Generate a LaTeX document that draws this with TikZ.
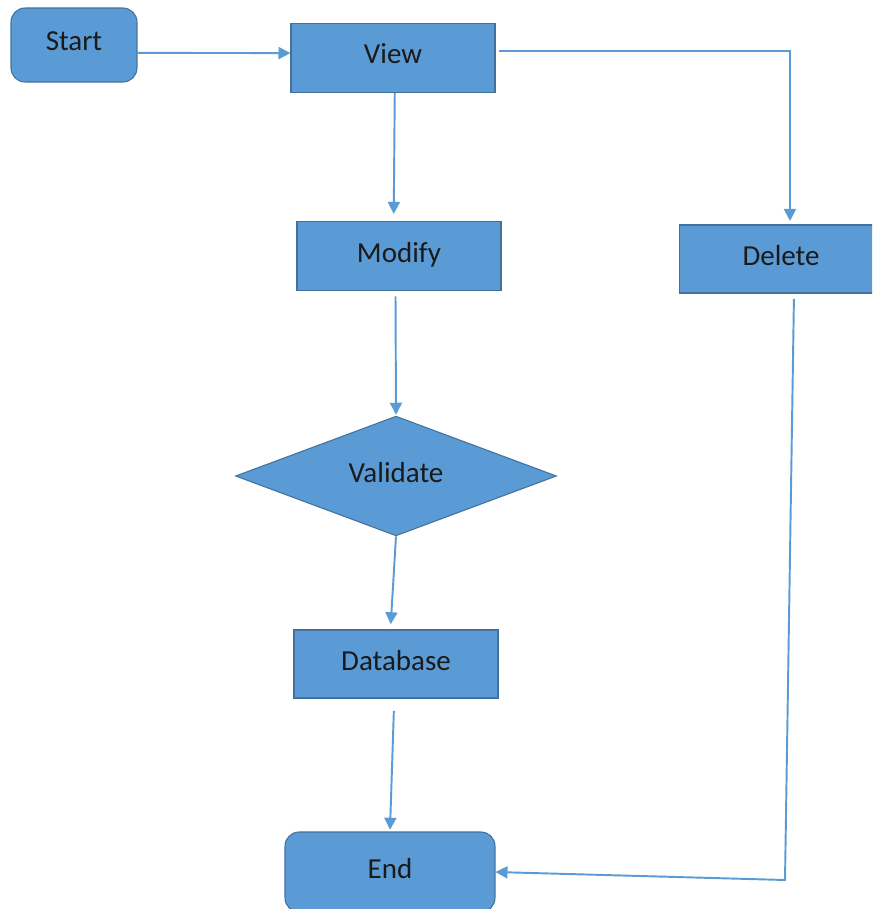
\documentclass[tikz,border=0pt]{standalone}
\usepackage{fontspec}
\setmainfont{Carlito}
\usetikzlibrary{arrows.meta, positioning, shapes.geometric}
\definecolor{boxblue}{HTML}{5B9BD5}
\definecolor{boxedge}{HTML}{41719C}
\definecolor{labelink}{HTML}{1A1A1A}
\tikzset{
    process/.style = {
      rectangle, fill=boxblue, draw=boxedge, line width=0.6pt,
      minimum width=4.08cm, minimum height=1.38cm, inner sep=0,
      text=labelink, font=\fontsize{16.5}{19}\selectfont,
      text height=0.37cm, text depth=0.13cm,
    },
    terminal/.style = {
      process, rounded corners=8pt,
    },
    decision/.style = {
      diamond, fill=boxblue, draw=boxedge, line width=0.6pt,
      minimum width=6.42cm, minimum height=2.26cm, inner sep=0,
      text=labelink, font=\fontsize{16.5}{19}\selectfont,
      text height=0.37cm, text depth=0.13cm,
    },
    flow/.style = {
      draw=boxblue, line width=1.1pt,
      arrows={-Triangle[length=0.24cm, width=0.24cm]},
    },
}
\begin{document}
\begin{tikzpicture}[x=0.02cm, y=-0.02cm]
    \clip (0,0) rectangle (872,909);
    \fill [white] (0,0) rectangle (872,909);

    %% Boxes of the flow chart
    \node [terminal, minimum width=2.52cm, minimum height=1.48cm] (start) at (74,45) {Start};
    \node [process] (view) at (393,58) {View};
    \node [process] (modify) at (399,256) {Modify};
    \node [process, minimum height=1.36cm] (delete) at (781,259) {Delete};
    \node [decision] (validate) at (396,476) {Validate};
    \node [process, minimum height=1.36cm] (database) at (396,664) {Database};
    \node [terminal, minimum width=4.2cm, minimum height=1.6cm] (end) at (390,872) {End};

    %% Corners of the two bent connectors
    \coordinate (viewturn) at (790,51);
    \coordinate (deleteturn) at (785,880);

    %% Connectors
    \draw [flow] ([yshift=-4.5pt] start.east) -- ([yshift=2.8pt] view.west);
    \draw [flow] ([xshift=1pt] view.south) -- ([xshift=-3pt, yshift=4pt] modify.north);
    \draw [flow, shorten <=3pt] ([xshift=-2pt] modify.south) -- ([yshift=0.5pt] validate.north);
    \draw [flow] (validate.south) -- ([xshift=-3pt, yshift=3pt] database.north);
    \draw [flow, shorten <=7pt] ([xshift=-1pt] database.south) -- ([yshift=1pt] end.north);
    \draw [flow, shorten <=2pt] (view.east |- viewturn) -- (viewturn) -- ([yshift=2pt] delete.north -| viewturn);
    \draw [flow, shorten <=3pt] (delete.south -| 794,0) -- (deleteturn) -- (end.east |- 0,872);
\end{tikzpicture}
\end{document}
